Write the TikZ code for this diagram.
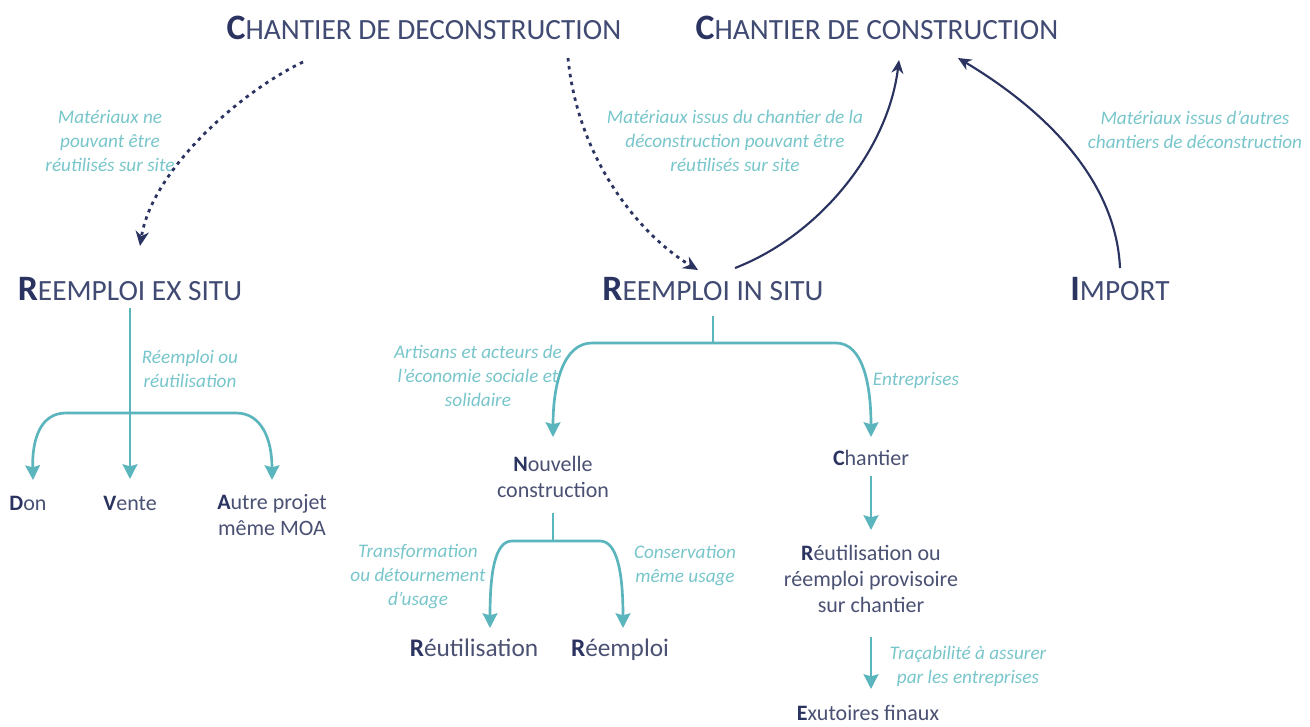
\documentclass[tikz,border=0pt]{standalone}
\usepackage{fontspec}
\setmainfont{Carlito}
\usetikzlibrary{arrows.meta,calc}
\definecolor{navy}{HTML}{2B3361}
\definecolor{headtxt}{HTML}{404A72}
\definecolor{bodytxt}{HTML}{4A5173}
\definecolor{tealc}{HTML}{5BB5BD}
\definecolor{labelc}{HTML}{78C6CB}
\newcommand{\hd}[2]{{\fontsize{26.8}{29}\selectfont\bfseries\color{navy}#1}{\fontsize{22}{25}\selectfont #2}}
\newcommand{\bd}[1]{{\bfseries\color{navy}#1}}
\begin{document}
\begin{tikzpicture}[x=0.75pt,y=-0.75pt,
  head/.style={text=headtxt, inner sep=0pt, anchor=center},
  body/.style={text=bodytxt, font=\fontsize{16.5}{19.5}\selectfont, align=center, inner sep=0pt},
  bigbody/.style={body, font=\fontsize{19}{22}\selectfont},
  lab/.style={text=labelc, font=\fontsize{14.4}{18}\selectfont\itshape, align=center, inner sep=0pt},
  navyarrow/.style={draw=navy, line width=1.6pt, -{Stealth[length=10pt,width=9pt]}},
  dotarrow/.style={draw=navy, line width=2.1pt, dash pattern=on 2.6pt off 3.4pt, -{Stealth[length=11pt,width=10pt]}},
  tealline/.style={draw=tealc, line width=2pt},
  tealarrow/.style={tealline, -{Stealth[length=11pt,width=11pt,inset=1.5pt]}}]
\useasboundingbox[fill=white] (0,0) rectangle (1310,726);

% headings
\node[head] (dec) at (424,28) {\hd{C}{HANTIER DE DECONSTRUCTION}};
\node[head] (con) at (877,28) {\hd{C}{HANTIER DE CONSTRUCTION}};
\node[head] (ex) at (130,289) {\hd{R}{EEMPLOI EX SITU}};
\node[head] (in) at (713,289) {\hd{R}{EEMPLOI IN SITU}};
\node[head] (imp) at (1120,289) {\hd{I}{MPORT}};

% labels
\node[lab] (l1) at (110,141) {Matériaux ne\\pouvant être\\réutilisés sur site};
\node[lab] (l2) at (735,141) {Matériaux issus du chantier de la\\déconstruction pouvant être\\réutilisés sur site};
\node[lab] (l3) at (1195,130) {Matériaux issus d’autres\\chantiers de déconstruction};
\node[lab] (l4) at (190,369) {Réemploi ou\\réutilisation};
\node[lab] (l5) at (478,376) {Artisans et acteurs de\\l’économie sociale et\\solidaire};
\node[lab] (l6) at (916,380) {Entreprises};
\node[lab] (l7) at (418,577) {Transformation\\ou détournement\\d’usage};
\node[lab] (l8) at (685,565) {Conservation\\même usage};
\node[lab] (l9) at (968,666) {Traçabilité à assurer\\par les entreprises};

% body nodes
\node[body] (don) at (28,503) {\bd{D}on};
\node[body] (vente) at (130,503) {\bd{V}ente};
\node[body] (autre) at (272,515) {\bd{A}utre projet\\même MOA};
\node[body] (nouv) at (553,477) {\bd{N}ouvelle\\construction};
\node[body] (chan) at (871,458) {\bd{C}hantier};
\node[bigbody] (reut) at (474,648) {\bd{R}éutilisation};
\node[bigbody] (reem) at (620,650) {\bd{R}éemploi};
\node[body] (reprov) at (871,579) {\bd{R}éutilisation ou\\réemploi provisoire\\sur chantier};
\node[body] (exu) at (868,713) {\bd{E}xutoires finaux};

% navy connectors
\draw[dotarrow] ($(dec)+(-121,34)$) .. controls (240,92) and (152,170) .. ($(ex)+(10,-43)$);
\draw[dotarrow] ($(dec)+(144,30)$) .. controls (578,160) and (640,235) .. ($(in)+(-15,-19)$);
\draw[navyarrow] ($(in)+(22,-21)$) .. controls (820,235) and (888,150) .. ($(con)+(22,32)$);
\draw[navyarrow] ($(imp)+(0,-21)$) .. controls (1116,180) and (1045,110) .. ($(con)+(81,30)$);

% ex situ tree
\draw[tealarrow] ($(ex)+(0,19)$) -- ($(vente)+(0,-24)$);
\draw[tealarrow] ($(ex)+(0,124)$) -- (66,413) .. controls (40,413) and (32,440) .. ($(don)+(5,-23)$);
\draw[tealarrow] ($(ex)+(0,124)$) -- (236,413) .. controls (262,413) and (272,440) .. ($(autre)+(0,-35)$);

% in situ tree
\draw[tealline] ($(in)+(0,27)$) -- ($(in)+(0,54)$);
\draw[tealarrow] ($(in)+(0,54)$) -- (592,343) .. controls (563,343) and (553,385) .. ($(nouv)+(0,-40)$);
\draw[tealarrow] ($(in)+(0,54)$) -- (836,343) .. controls (863,343) and (871,385) .. ($(chan)+(0,-21)$);

% nouvelle construction tree
\draw[tealline] ($(nouv)+(0,36)$) -- ($(nouv)+(0,64)$);
\draw[tealarrow] ($(nouv)+(0,64)$) -- (512,541) .. controls (495,541) and (490,572) .. ($(reut)+(16,-20)$);
\draw[tealarrow] ($(nouv)+(0,64)$) -- (600,541) .. controls (617,541) and (623,572) .. ($(reem)+(3,-22)$);

% chantier chain
\draw[tealarrow] ($(chan)+(0,18)$) -- ($(reprov)+(0,-49)$);
\draw[tealarrow] ($(reprov)+(0,58)$) -- ($(exu)+(3,-24)$);
\end{tikzpicture}
\end{document}
